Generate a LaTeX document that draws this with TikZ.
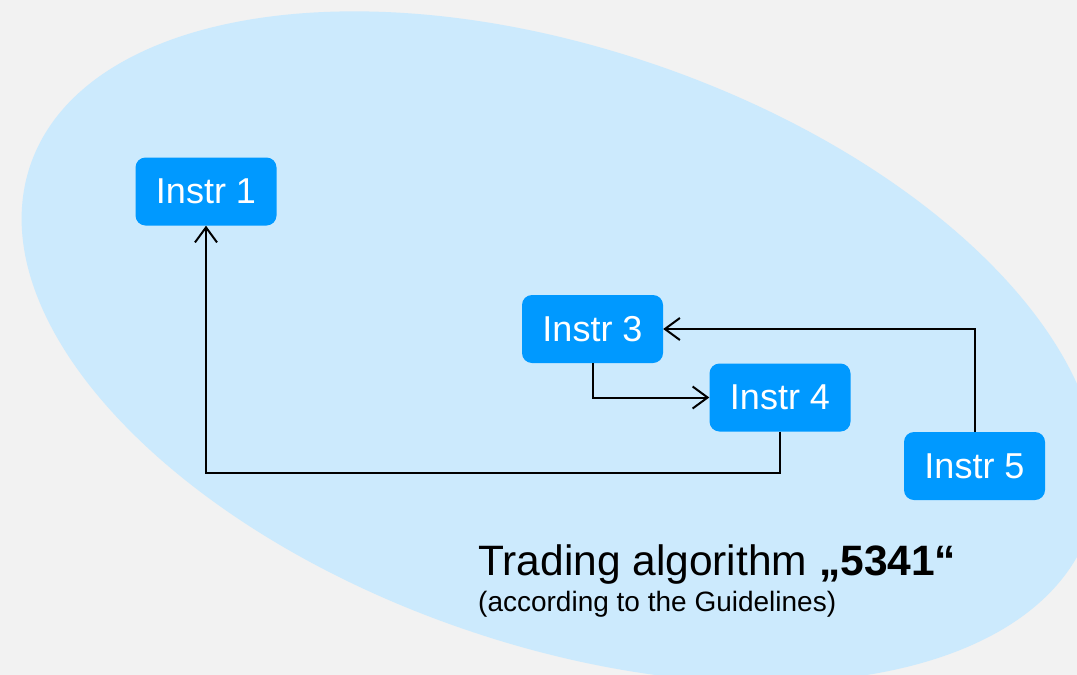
\documentclass[tikz,border=0pt]{standalone}
\usepackage{fontspec}
\setmainfont{Liberation Sans}
\usetikzlibrary{arrows.meta}
\definecolor{bggray}{RGB}{242,242,242}
\definecolor{ellblue}{RGB}{204,234,253}
\definecolor{boxblue}{RGB}{0,153,255}
\tikzset{
  instr/.style={fill=boxblue, text=white, rounded corners=10pt, minimum width=141pt,
    minimum height=68pt, inner sep=0pt, font=\fontsize{36}{42}\selectfont},
  conn/.style={draw=black, line width=2pt, -{Straight Barb[length=15pt,width=22pt,line width=2pt]}}
}
\begin{document}
\begin{tikzpicture}[x=1pt,y=-1pt]
\useasboundingbox (0,0) rectangle (1077,675);
\fill[bggray] (0,0) rectangle (1077,675);
\begin{scope}
\clip (0,0) rectangle (1077,675);
\fill[ellblue, rotate around={-19:(560,347)}] (560,347) ellipse [x radius=560pt, y radius=298pt];
\end{scope}
\node[instr] (i1) at (206,191.5) {Instr 1};
\node[instr] (i3) at (592.5,329) {Instr 3};
\node[instr] (i4) at (780,397.5) {Instr 4};
\node[instr] (i5) at (974.5,466) {Instr 5};
\draw[conn] (i4.south) -- ++(0,41) -| (i1.south);
\draw[conn] (i3.south) |- (i4.west);
\draw[conn] (i5.north) |- (i3.east);
\node[anchor=base west, inner sep=0pt, font=\fontsize{42.5}{50}\selectfont] (title) at (478,575) {Trading algorithm \textbf{„5341“}};
\node[anchor=base west, inner sep=0pt, font=\fontsize{28}{34}\selectfont] (sub) at (478,611) {(according to the Guidelines)};
\end{tikzpicture}
\end{document}
